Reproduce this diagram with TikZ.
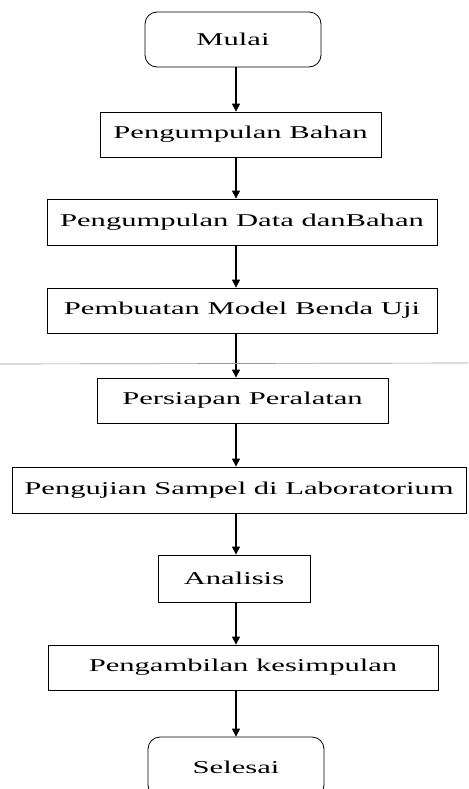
\documentclass[tikz,border=0pt]{standalone}
\usepackage{fontspec}
\setmainfont{Liberation Serif}
\usepackage{graphicx}
\usetikzlibrary{arrows.meta}
\newcommand{\hstr}[1]{\scalebox{1.7}[1]{#1}}
\begin{document}
\begin{tikzpicture}[x=0.75pt,y=-0.75pt,
  box/.style={draw, line width=0.6pt, inner sep=0pt, rectangle,
              font=\fontsize{13.5}{16}\selectfont},
  term/.style={box, rounded corners=9pt},
  sz/.style 2 args={minimum width=#1*0.75pt, minimum height=#2*0.75pt},
  arr/.style={draw, line width=0.8pt, -{Triangle[width=6pt,length=6pt]}},
  stray/.style={draw=gray!80, line width=0.5pt}]
\useasboundingbox (0,0) rectangle (468,789);
\clip (0,0) rectangle (468,789);
\fill[white] (0,0) rectangle (468,789);

\node[term, sz={176}{55}] (mulai) at (233,39.5) {\hstr{Mulai}};
\node[box, sz={281}{45}] (pb) at (240.5,134.5) {\hstr{Pengumpulan Bahan}};
\node[box, sz={390}{46}] (pdb) at (242,222) {\hstr{Pengumpulan Data danBahan}};
\node[box, sz={390}{45}] (pmbu) at (242,310.5) {\hstr{Pembuatan Model Benda Uji}};
\node[box, sz={291}{45}] (pp) at (242.5,400.5) {\hstr{Persiapan Peralatan}};
\node[box, sz={454}{46}] (psl) at (239,490) {\hstr{Pengujian Sampel di Laboratorium}};
\node[box, sz={152}{47}] (an) at (234,578.5) {\hstr{Analisis}};
\node[box, sz={390}{45}] (pk) at (243,667.5) {\hstr{Pengambilan kesimpulan}};
\node[term, sz={176}{60}] (sel) at (236,767) {\hstr{Selesai}};

\coordinate (ax) at (236,0);
\draw[arr] (mulai.south -| ax) -- (pb.north -| ax);
\draw[arr] (pb.south -| ax) -- (pdb.north -| ax);
\draw[arr] (pdb.south -| ax) -- (pmbu.north -| ax);
\draw[arr] (pmbu.south -| ax) -- (pp.north -| ax);
\draw[arr] (pp.south -| ax) -- (psl.north -| ax);
\draw[arr] (psl.south -| ax) -- (an.north -| ax);
\draw[arr] (an.south -| ax) -- (pk.north -| ax);
\draw[arr] (pk.south -| ax) -- (sel.north -| ax);

\coordinate (sl) at (0,364);
\coordinate (sr) at (468,363);
\draw[stray] (sl) -- (sr);
\end{tikzpicture}
\end{document}
